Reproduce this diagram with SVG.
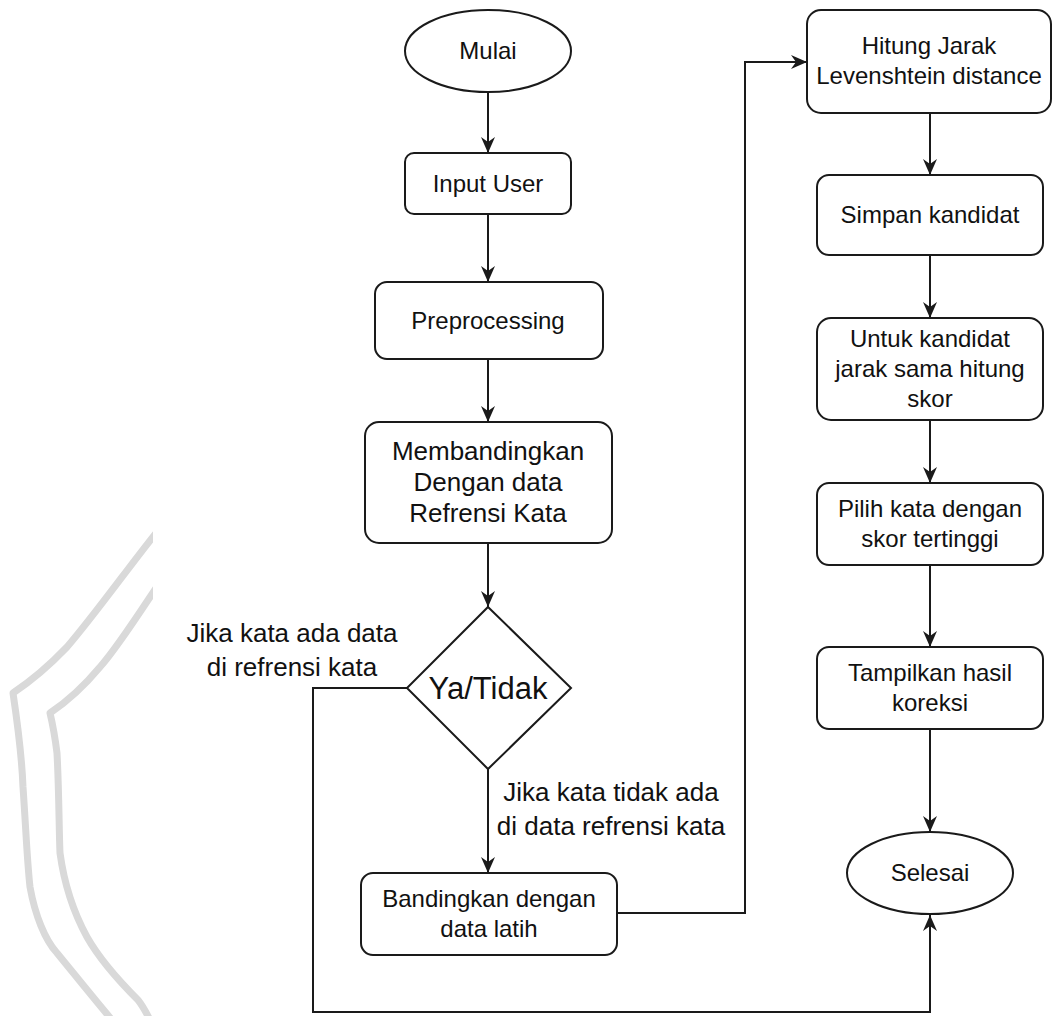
<svg xmlns="http://www.w3.org/2000/svg" width="1054" height="1016" viewBox="0 0 1054 1016">
  <style>
    .shape { fill: #ffffff; stroke: #1a1a1a; stroke-width: 2; }
    .label { font-family: "Liberation Sans", Arial, sans-serif; font-size: 24px; fill: #111; text-anchor: middle; }
    .edge-label { font-family: "Liberation Sans", Arial, sans-serif; font-size: 26px; fill: #111; text-anchor: middle; }
    .wire { fill: none; stroke: #1a1a1a; stroke-width: 2; }
    .mark { fill: none; stroke: #d9d9d9; stroke-width: 7; stroke-linejoin: round; stroke-linecap: round; }
  </style>
  <defs>
    <marker id="arrow" viewBox="0 0 16 14" refX="16" refY="7" markerWidth="16" markerHeight="14" markerUnits="userSpaceOnUse" orient="auto">
      <path d="M0,0 L16,7 L0,14 L5,7 Z" fill="#1a1a1a"/>
    </marker>
    <clipPath id="leftClip">
      <rect x="0" y="0" width="153" height="1016"/>
    </clipPath>
  </defs>

  <rect width="1054" height="1016" fill="#ffffff"/>

  <!-- faint background shield -->
  <g id="backdrop" clip-path="url(#leftClip)">
    <path class="mark" d="M160,528 C130,565 97,612 67,647 C45,670 25,685 13,693 C17,720 22,760 23,787 C26,830 27,860 30,887 C35,915 45,940 57,953 C75,975 95,1000 112,1020"/>
    <path class="mark" d="M160,582 C138,615 117,648 100,667 C85,685 65,703 50,713 C54,730 56,745 57,753 C59,790 59,830 60,853 C65,890 75,915 87,937 C100,960 118,980 138,1000 C142,1005 146,1012 150,1020"/>
  </g>

  <!-- connectors -->
  <g id="connectors">
    <line class="wire" x1="488" y1="92" x2="488" y2="153" marker-end="url(#arrow)"/>
    <line class="wire" x1="488" y1="214" x2="488" y2="282" marker-end="url(#arrow)"/>
    <line class="wire" x1="488" y1="359" x2="488" y2="422" marker-end="url(#arrow)"/>
    <line class="wire" x1="488" y1="543" x2="488" y2="607" marker-end="url(#arrow)"/>
    <line class="wire" x1="488" y1="769" x2="488" y2="873" marker-end="url(#arrow)"/>
    <polyline class="wire" points="617,913 745,913 745,62 807,62" marker-end="url(#arrow)"/>
    <line class="wire" x1="930" y1="113" x2="930" y2="175" marker-end="url(#arrow)"/>
    <line class="wire" x1="930" y1="255" x2="930" y2="318" marker-end="url(#arrow)"/>
    <line class="wire" x1="930" y1="420" x2="930" y2="483" marker-end="url(#arrow)"/>
    <line class="wire" x1="930" y1="565" x2="930" y2="647" marker-end="url(#arrow)"/>
    <line class="wire" x1="930" y1="729" x2="930" y2="832" marker-end="url(#arrow)"/>
    <polyline class="wire" points="407,688 313,688 313,1012 930,1012 930,915" marker-end="url(#arrow)"/>
    <text class="edge-label" x="292" y="642">Jika kata ada data</text>
    <text class="edge-label" x="292" y="676">di refrensi kata</text>
    <text class="edge-label" x="611" y="801">Jika kata tidak ada</text>
    <text class="edge-label" x="611" y="835">di data refrensi kata</text>
  </g>

  <g id="mulai">
    <ellipse class="shape" cx="488" cy="51" rx="83" ry="41"/>
    <text class="label" x="488" y="59">Mulai</text>
  </g>

  <g id="input-user">
    <rect class="shape" x="405" y="153" width="166" height="61" rx="9"/>
    <text class="label" x="488" y="192">Input User</text>
  </g>

  <g id="preprocessing">
    <rect class="shape" x="375" y="282" width="228" height="77" rx="12"/>
    <text class="label" x="488" y="329">Preprocessing</text>
  </g>

  <g id="membandingkan">
    <rect class="shape" x="365" y="422" width="247" height="121" rx="14"/>
    <text class="label" x="488" y="460" style="font-size:26px">Membandingkan</text>
    <text class="label" x="488" y="491" style="font-size:26px">Dengan data</text>
    <text class="label" x="488" y="522" style="font-size:26px">Refrensi Kata</text>
  </g>

  <g id="keputusan">
    <polygon class="shape" points="488,607 571,688 488,769 407,688"/>
    <text class="label" x="488" y="699" style="font-size:31px">Ya/Tidak</text>
  </g>

  <g id="bandingkan">
    <rect class="shape" x="361" y="873" width="256" height="82" rx="12"/>
    <text class="label" x="489" y="907">Bandingkan dengan</text>
    <text class="label" x="489" y="937">data latih</text>
  </g>

  <g id="hitung-jarak">
    <rect class="shape" x="807" y="10" width="244" height="103" rx="14"/>
    <text class="label" x="929" y="54">Hitung Jarak</text>
    <text class="label" x="929" y="84">Levenshtein distance</text>
  </g>

  <g id="simpan-kandidat">
    <rect class="shape" x="817" y="175" width="226" height="80" rx="12"/>
    <text class="label" x="930" y="223">Simpan kandidat</text>
  </g>

  <g id="hitung-skor">
    <rect class="shape" x="817" y="318" width="226" height="102" rx="14"/>
    <text class="label" x="930" y="347">Untuk kandidat</text>
    <text class="label" x="930" y="377">jarak sama hitung</text>
    <text class="label" x="930" y="407">skor</text>
  </g>

  <g id="pilih-kata">
    <rect class="shape" x="817" y="483" width="226" height="82" rx="12"/>
    <text class="label" x="930" y="517">Pilih kata dengan</text>
    <text class="label" x="930" y="547">skor tertinggi</text>
  </g>

  <g id="tampilkan">
    <rect class="shape" x="817" y="647" width="226" height="82" rx="12"/>
    <text class="label" x="930" y="681">Tampilkan hasil</text>
    <text class="label" x="930" y="711">koreksi</text>
  </g>

  <g id="selesai">
    <ellipse class="shape" cx="930" cy="873" rx="83" ry="41"/>
    <text class="label" x="930" y="881">Selesai</text>
  </g>
</svg>
